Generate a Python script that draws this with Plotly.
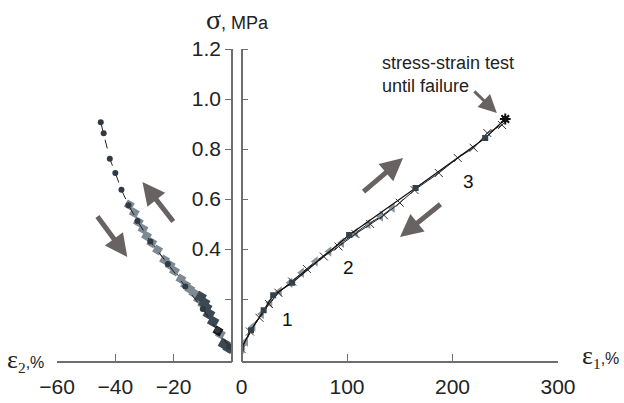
import plotly.graph_objects as go

# ---- lateral strain branch (eps2, %) ----
eps2_fail = [-45.0, -44.0, -41.9, -40.0, -37.9, -35.5, -32.4, -28.0, -22.0, -16.0, -10.0, -5.0, -1.0]
sig_fail_l = [0.907, 0.863, 0.761, 0.704, 0.637, 0.575, 0.512, 0.43, 0.34, 0.25, 0.16, 0.075, 0.01]

eps2_cyc = [-35.2, -33.5, -32.1, -30.5, -29.3, -27.5, -25.5, -23.1, -21.2, -19.7, -17.5,
            -15.9, -14.5, -13.1, -11.5, -10.0, -8.3, -6.2, -4.0, -2.2, -0.6]
sig_cyc_l = [0.576, 0.545, 0.508, 0.48, 0.452, 0.425, 0.396, 0.356, 0.335, 0.312, 0.28,
             0.256, 0.24, 0.224, 0.2, 0.18, 0.14, 0.108, 0.06, 0.02, 0.004]

eps2_dark = [-10.7, -9.5, -8.8, -7.8, -6.5, -2.8, -1.2]
sig_dark_l = [0.208, 0.185, 0.165, 0.14, 0.11, 0.02, 0.005]

eps2_black = [-4.8]
sig_black_l = [0.072]

# ---- axial strain branch (eps1, %) ----
eps1_tri = [0, 4, 11, 19, 27, 36, 46, 57, 70, 83, 95, 108, 120, 132, 143]
sig_tri = [0, 0.03, 0.09, 0.14, 0.185, 0.23, 0.265, 0.305, 0.35, 0.39, 0.425, 0.465, 0.5, 0.53, 0.565]

eps1_x = [0, 8, 17, 26, 35, 48, 62, 78, 92, 108, 122, 135, 150, 164, 187, 205, 220, 233, 247]
sig_x = [0, 0.07, 0.125, 0.18, 0.225, 0.27, 0.32, 0.37, 0.41, 0.46, 0.5, 0.535, 0.585,
         0.636, 0.704, 0.764, 0.805, 0.864, 0.896]

eps1_sq = [0, 9, 21, 30, 48, 102, 165, 231, 250]
sig_sq = [0.005, 0.075, 0.155, 0.215, 0.265, 0.456, 0.644, 0.844, 0.92]

eps1_fail = [250]
sig_fail = [0.92]

# ---- axis ticks ----
x_left_ticks = [-60, -40, -20]
x_right_ticks = [0, 100, 200, 300]
y_ticks = [0.2, 0.4, 0.6, 0.8, 1.0, 1.2]
y_tick_text = ["", "0.4", "0.6", "0.8", "1.0", "1.2"]

FONT = "Liberation Sans, Arial, sans-serif"
SERIF = "Liberation Serif"
AX = "#6e6e6e"
ARROW = "#686262"

fig = go.Figure()

# left branch
fig.add_trace(go.Scatter(x=eps2_cyc, y=sig_cyc_l, mode="lines+markers", xaxis="x", yaxis="y",
                         line=dict(color="#222", width=1),
                         marker=dict(symbol="square", angle=30, size=8, color="#7d8a94")))
fig.add_trace(go.Scatter(x=eps2_dark, y=sig_dark_l, mode="markers", xaxis="x", yaxis="y",
                         marker=dict(symbol="square", angle=30, size=9, color="#3c4852")))
fig.add_trace(go.Scatter(x=eps2_black, y=sig_black_l, mode="markers", xaxis="x", yaxis="y",
                         marker=dict(symbol="square", angle=30, size=8, color="#151515")))
fig.add_trace(go.Scatter(x=eps2_fail, y=sig_fail_l, mode="lines+markers", xaxis="x", yaxis="y",
                         line=dict(color="#222", width=1, dash="dash"),
                         marker=dict(symbol="circle", size=6, color="#2f3a44")))

# right branch
fig.add_trace(go.Scatter(x=eps1_tri, y=sig_tri, mode="lines+markers", xaxis="x2", yaxis="y2",
                         line=dict(color="#222", width=1),
                         marker=dict(symbol="triangle-left", size=9, color="#8a959e")))
fig.add_trace(go.Scatter(x=eps1_x, y=sig_x, mode="lines+markers", xaxis="x2", yaxis="y2",
                         line=dict(color="#222", width=1),
                         marker=dict(symbol="x-thin", size=8, line=dict(color="#333", width=1))))
fig.add_trace(go.Scatter(x=eps1_sq, y=sig_sq, mode="lines+markers", xaxis="x2", yaxis="y2",
                         line=dict(color="#111", width=1.2),
                         marker=dict(symbol="square", size=6, color="#34404a")))
fig.add_trace(go.Scatter(x=eps1_fail, y=sig_fail, mode="markers", xaxis="x2", yaxis="y2",
                         marker=dict(symbol="asterisk", size=9, line=dict(color="#111", width=2))))

yr = [-0.052, 1.2]
axis_common = dict(showgrid=False, zeroline=False, showline=True, linecolor=AX, linewidth=1.5,
                   tickcolor=AX, tickwidth=1.2, automargin=False,
                   tickfont=dict(family=FONT, size=21, color="#222"))

fig.update_layout(
    width=624, height=403,
    margin=dict(l=57, r=66, t=49, b=41),
    paper_bgcolor="white", plot_bgcolor="white",
    showlegend=False,
    xaxis=dict(domain=[0, 0.3493], range=[-60, 0], anchor="free", position=0,
               tickvals=x_left_ticks, ticks="inside", ticklen=7, ticklabelstandoff=6, **axis_common),
    xaxis2=dict(domain=[0.3683, 1.0], range=[0, 300], anchor="free", position=0,
                tickvals=x_right_ticks, ticks="inside", ticklen=7, ticklabelstandoff=6, **axis_common),
    yaxis=dict(range=yr, anchor="free", position=0.3493, side="left",
               tickvals=y_ticks, ticktext=y_tick_text, ticks="outside", ticklen=6, **axis_common),
    yaxis2=dict(range=yr, anchor="free", position=0.3683, side="right", overlaying="y",
                tickvals=y_ticks, ticks="outside", ticklen=6, showticklabels=False, **axis_common),
)

ann = []
# axis titles
ann.append(dict(xref="paper", yref="paper", x=0.36, y=1.0, yshift=30, xanchor="center", yanchor="middle",
                text=f"<span style='font-family:{SERIF};font-size:28px'>σ</span>, MPa",
                font=dict(family=FONT, size=18, color="#222"), showarrow=False))
ann.append(dict(xref="paper", yref="paper", x=0, xshift=-52, y=0, yshift=2, yanchor="middle", xanchor="left",
                text=f"<span style='font-family:{SERIF};font-size:26px'>ε</span>"
                     f"<span style='font-family:{SERIF};font-size:22px'><sub>2</sub></span>,%",
                font=dict(family=FONT, size=16, color="#222"), showarrow=False))
ann.append(dict(xref="paper", yref="paper", x=1, xshift=22, y=0, yshift=6, yanchor="middle", xanchor="left",
                text=f"<span style='font-family:{SERIF};font-size:26px'>ε</span>"
                     f"<span style='font-family:{SERIF};font-size:22px'><sub>1</sub></span>,%",
                font=dict(family=FONT, size=16, color="#222"), showarrow=False))

# cycle numbers
for t, xv, yv in [("1", 44, 0.12), ("2", 101, 0.325), ("3", 215, 0.67)]:
    ann.append(dict(xref="x2", yref="y2", x=xv, y=yv, text=t, showarrow=False,
                    font=dict(family=FONT, size=19, color="#111")))

# failure note
ann.append(dict(xref="x2", yref="y2", x=131, y=1.097, xanchor="left", yanchor="middle", align="left",
                text="stress-strain test<br>until failure", showarrow=False,
                font=dict(family=FONT, size=18, color="#222")))
ann.append(dict(xref="x2", yref="y2", x=242, y=0.944, ax=-24, ay=-23, showarrow=True,
                arrowhead=2, arrowwidth=3, arrowsize=1.2, arrowcolor=ARROW, text=""))

# loading / unloading direction arrows
for xr, yr_, xv, yv, ax, ay in [("x", "y", -35.9, 0.368, -31, -42),
                                ("x", "y", -30.7, 0.668, 32, 41),
                                ("x2", "y2", 153.1, 0.764, -41, 35),
                                ("x2", "y2", 150.2, 0.448, 42, -34)]:
    ann.append(dict(xref=xr, yref=yr_, x=xv, y=yv, ax=ax, ay=ay, showarrow=True,
                    arrowhead=2, arrowwidth=5, arrowsize=0.9, arrowcolor=ARROW, text=""))

fig.update_layout(annotations=ann)
fig.write_html("out.html")
